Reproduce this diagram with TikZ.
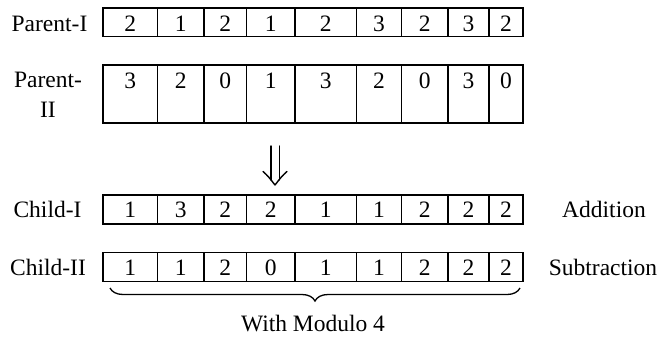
\documentclass[tikz,border=0pt]{standalone}
\usepackage{fontspec}
\setmainfont{Liberation Serif}
\newfontfamily\tnr{Liberation Serif}
\usetikzlibrary{decorations.pathreplacing,arrows.meta}
\def\bx{{103,157.5,204,246.5,295,356.5,401.5,448,489,523}}
\newcommand\generow[5]{% #1 name, #2 top, #3 bottom, #4 text baseline, #5 digits
  \foreach \d [count=\i] in {#5} {
    \pgfmathsetmacro\l{\bx[\i-1]}
    \pgfmathsetmacro\r{\bx[\i]}
    \pgfmathsetmacro\w{\r-\l}
    \pgfmathsetmacro\cx{(\l+\r)/2}
    \pgfmathsetmacro\h{#3-#2}
    \pgfmathsetmacro\cy{(#2+#3)/2}
    \node[cellbox, minimum width=\w pt, minimum height=\h pt] (#1c\i) at (\cx,\cy) {};
    \node[txt, anchor=base] (#1d\i) at (\cx,#4) {\d};
  }}
\begin{document}
\begin{tikzpicture}[x=1pt,y=-1pt,
  cellbox/.style={draw, line width=1.8pt, inner sep=0pt},
  txt/.style={font=\tnr\fontsize{23.5}{30}\selectfont, inner sep=0pt},
  arrowline/.style={line width=1.4pt, line cap=round, line join=round},
]
\useasboundingbox (0,0) rectangle (661,338);
\generow{pa}{8}{36.5}{31.7}{2,1,2,1,2,3,2,3,2}
\generow{pb}{65}{123}{88}{3,2,0,1,3,2,0,3,0}
\generow{ca}{195}{224}{217.3}{1,3,2,2,1,1,2,2,2}
\generow{cb}{252.5}{281.5}{275}{1,1,2,0,1,1,2,2,2}
\node[txt, anchor=base] (lpa) at (49.5,31.7) {Parent-I};
\node[txt, anchor=north, align=center] (lpb) at (48,72) {Parent-\\II};
\node[txt, anchor=base] (lca) at (47.5,217.3) {Child-I};
\node[txt, anchor=base] (lcb) at (48,275) {Child-II};
\node[txt, anchor=base] (add) at (604,217.3) {Addition};
\node[txt, anchor=base] (sub) at (603,275) {Subtraction};
\node[txt, anchor=base] (mod) at (313,331.7) {With Modulo 4};
\coordinate (a1) at (271,146);
\coordinate (a2) at (279.5,146);
\coordinate (tip) at (275,185);
\draw[arrowline] (a1) -- ++(0,34);
\draw[arrowline] (a2) -- ++(0,34);
\draw[arrowline] (263,171.5) .. controls (268,176) .. (tip) .. controls (282,176) .. (287,171.5);
\coordinate (bl) at (110,288);
\coordinate (br) at (520,288);
\draw[line width=1.3pt, decorate, decoration={brace, amplitude=13pt, mirror}] (bl) -- (br);
\end{tikzpicture}
\end{document}
